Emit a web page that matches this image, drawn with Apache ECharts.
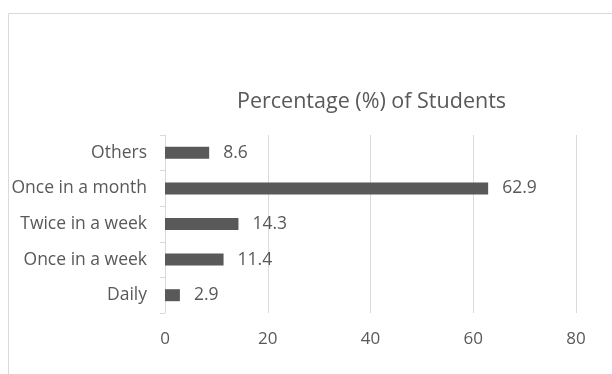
<!DOCTYPE html>
<html><head><meta charset="utf-8">
<script src="https://cdn.jsdelivr.net/npm/echarts@6/dist/echarts.min.js"></script>
<style>html,body{margin:0;padding:0;background:#fff}#c{width:612px;height:374px}</style>
</head><body><div id="c"></div>
<script>
const categories = ["Daily", "Once in a week", "Twice in a week", "Once in a month", "Others"];
const values = [2.9, 11.4, 14.3, 62.9, 8.6];
const xTicks = [0, 20, 40, 60, 80];
const title = "Percentage (%) of Students";

const chart = echarts.init(document.getElementById('c'));
chart.setOption({
  backgroundColor: '#fff',
  animation: false,
  graphic: [{
    type: 'rect', shape: {x: 8.5, y: 13.5, width: 620, height: 400},
    style: {fill: 'none', stroke: '#d9d9d9', lineWidth: 1}, silent: true
  }],
  title: {
    text: title, left: 232, top: 86,
    textStyle: {fontFamily: 'Open Sans', fontSize: 21.5, fontWeight: 'normal', color: '#595959'}
  },
  grid: {left: 165, right: 36, top: 135, bottom: 61, containLabel: false},
  xAxis: {
    type: 'value', min: xTicks[0], max: xTicks[xTicks.length - 1], interval: 20,
    axisLine: {show: false}, axisTick: {show: false},
    splitLine: {lineStyle: {color: '#d9d9d9', width: 1}},
    axisLabel: {fontFamily: 'Open Sans', fontSize: 17, color: '#595959', margin: 18}
  },
  yAxis: {
    type: 'category', data: categories,
    axisLine: {lineStyle: {color: '#d9d9d9'}},
    axisTick: {show: true, length: 5, lineStyle: {color: '#d9d9d9'}},
    axisLabel: {fontFamily: 'Open Sans', fontSize: 17.5, color: '#595959', margin: 18}
  },
  series: [{
    type: 'bar', data: values, barWidth: 12,
    itemStyle: {color: '#595959'},
    label: {show: true, position: 'right', distance: 14, fontFamily: 'Open Sans', fontSize: 17.5, color: '#595959',
      formatter: p => p.value.toFixed(1)}
  }]
});
</script></body></html>
